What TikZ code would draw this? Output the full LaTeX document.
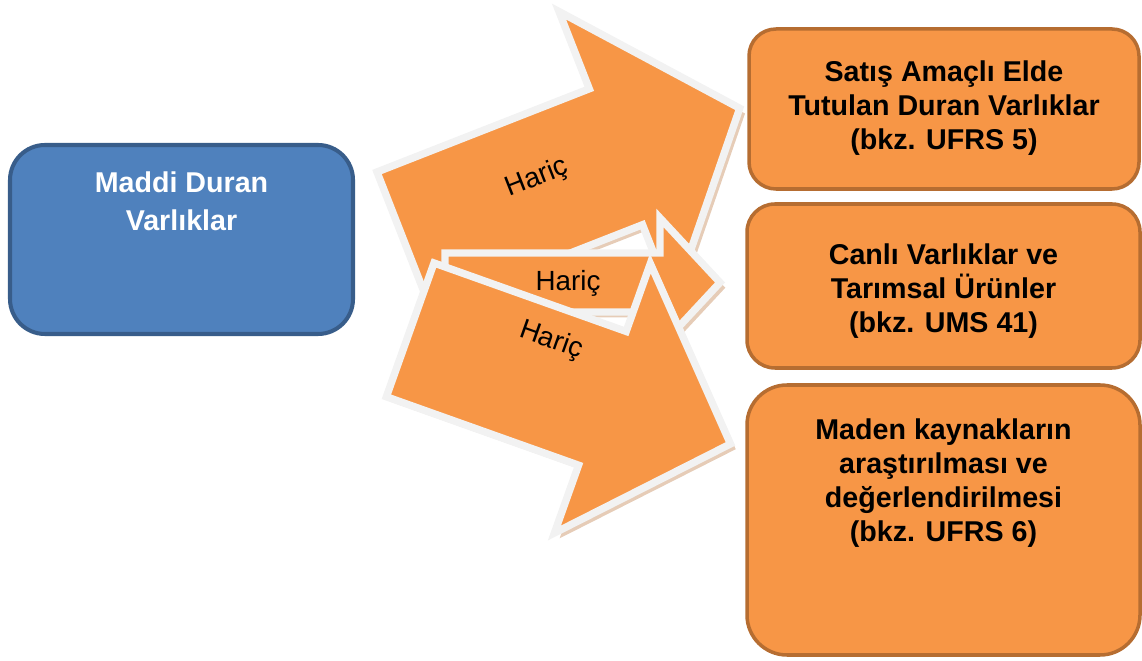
\documentclass[tikz,border=0pt]{standalone}
\usepackage{fontspec}
\setmainfont{Liberation Sans}
\usetikzlibrary{shadows, positioning}
\definecolor{carrot}{RGB}{247,150,70}
\definecolor{carrotrim}{RGB}{182,109,49}
\definecolor{steelblue}{RGB}{79,129,189}
\definecolor{steelrim}{RGB}{56,93,138}
\definecolor{smoke}{RGB}{242,242,242}
\def\px{0.02cm}
% block arrow: shaft length, shaft width, head overhang, head length
\def\blockarrow#1#2#3#4{(0,0) -- (#1,0) -- (#1,-#3) -- ({#1+#4},{#2/2}) -- (#1,{#2+#3}) -- (#1,#2) -- (0,#2) -- cycle}

\begin{document}
\begin{tikzpicture}[x=\px, y=-\px,
    harrow/.style={fill=carrot, draw=smoke, line width=4.2pt,
      drop shadow={shadow xshift=3pt, shadow yshift=-3pt, fill=carrotrim, opacity=.35}},
    haric/.style={font=\fontsize{15.8}{18}\selectfont, inner sep=0pt},
    obox/.style={fill=carrot, draw=carrotrim, line width=2pt, inner sep=0pt},
    otext/.style={font=\bfseries\fontsize{16.3}{19.3}\selectfont, align=center, inner sep=0pt},
  ]
  \useasboundingbox (0,0) rectangle (1142,661);
  %\draw[step=50, help lines] (0,0) grid (1142,661);

  % arrows, back to front
  \begin{scope}[shift={(377,172)}, rotate=21.4]
    \draw[harrow] \blockarrow{228}{146}{83}{133};
  \end{scope}
  \node[haric, rotate=21.4] (haric1) at (537,178) {Hariç};

  \begin{scope}[shift={(445,253)}]
    \draw[harrow] \blockarrow{215}{59}{35}{60};
  \end{scope}
  \node[haric] (haric2) at (568,283) {Hariç};

  \begin{scope}[shift={(434,263)}, rotate=-19.6]
    \draw[harrow] \blockarrow{204}{142}{72}{136};
  \end{scope}
  \node[haric, rotate=-19.6] (haric3) at (551,341) {Hariç};

  % left box
  \node[fill=steelblue, draw=steelrim, line width=2.3pt, rounded corners=0.7cm,
    minimum width=343*\px, minimum height=189*\px] (maddi) at (181.5,239.5) {};
  \node[otext, text=white, font=\bfseries\fontsize{16.3}{22}\selectfont,
    below=0.56cm of maddi.north] (madditext) {Maddi Duran\\Varlıklar};

  % right boxes
  \node[obox, rounded corners=0.54cm, minimum width=390*\px, minimum height=160*\px] (satis) at (944,109) {};
  \node[otext, below=0.66cm of satis.north] (satistext) {Satış Amaçlı Elde\\Tutulan Duran Varlıklar\\(bkz. UFRS 5)};

  \node[obox, rounded corners=0.56cm, minimum width=393*\px, minimum height=164*\px] (canli) at (943.5,286) {};
  \node[otext, below=0.82cm of canli.north] (canlitext) {Canlı Varlıklar ve\\Tarımsal Ürünler\\(bkz. UMS 41)};

  \node[obox, rounded corners=0.8cm, minimum width=393*\px, minimum height=270*\px] (maden) at (943.5,520) {};
  \node[otext, below=0.7cm of maden.north] (madentext) {Maden kaynakların\\araştırılması ve\\değerlendirilmesi\\(bkz. UFRS 6)};
\end{tikzpicture}
\end{document}
